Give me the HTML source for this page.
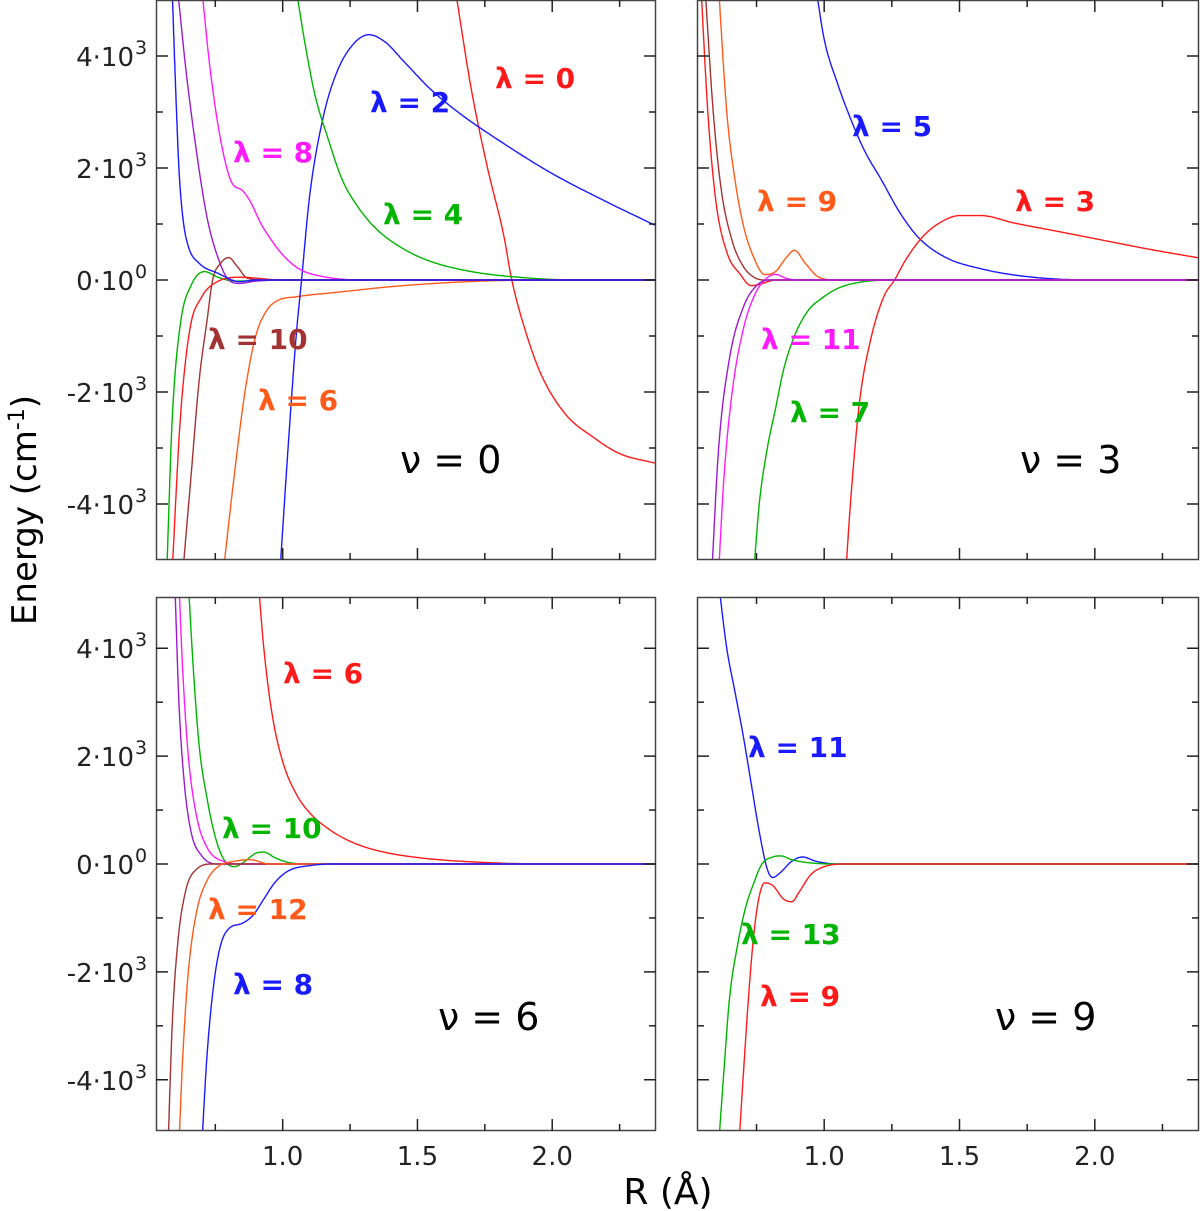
<!DOCTYPE html>
<html><head><meta charset="utf-8"><style>
html,body{margin:0;padding:0;background:#fff}
svg{display:block}
text{font-family:"DejaVu Sans","Liberation Sans",sans-serif}
.lab{font-size:28px;font-weight:bold}
.nu{font-size:38px;fill:#000}
.tk{font-size:26px;fill:#222}
</style></head><body>
<svg id="chart" width="1200" height="1211" viewBox="0 0 1200 1211" xmlns="http://www.w3.org/2000/svg"></svg>
<script>
// ---- data (R in Å, E in cm^-1) ----
const xTicksMajor = [1.0, 1.5, 2.0];
const xTicksMinor = [0.75, 1.25, 1.75, 2.25];
const xTickLabels = ["1.0", "1.5", "2.0"];
const yTicks = [-4000, -3000, -2000, -1000, 0, 1000, 2000, 3000, 4000];
const yTickLabelVals = [4000, 2000, 0, -2000, -4000];
const yTickLabels = ["4·10", "2·10", "0·10", "-2·10", "-4·10"];
const yTickExps = ["3", "3", "0", "3", "3"];

// panel v=0
const v0_l0_r = [1.64,1.70,1.76,1.82,1.85,1.90,1.96,2.05,2.15,2.25,2.38];
const v0_l0_e = [5200,3400,2000,800,0,-900,-1700,-2400,-2800,-3100,-3270];
const v0_l2_r = [0.99,1.02,1.05,1.07,1.10,1.15,1.20,1.26,1.32,1.38,1.45,1.55,1.65,1.80,2.0,2.2,2.38];
const v0_l2_e = [-5200,-3000,-1000,0,1500,2900,3700,4200,4380,4250,3900,3400,3000,2500,1900,1400,980];
const v0_l4_r = [1.05,1.08,1.12,1.17,1.22,1.28,1.35,1.45,1.55,1.7,1.9,2.1,2.38];
const v0_l4_e = [5200,4300,3300,2500,1800,1300,900,550,330,150,40,0,0];
const v0_g_r = [0.57,0.59,0.62,0.66,0.71,0.76,0.82,1.0,2.38];
const v0_g_e = [-5200,-2500,-800,-100,150,50,-20,0,0];
const v0_l8_r = [0.70,0.73,0.77,0.81,0.85,0.88,0.92,0.96,1.0,1.06,1.15,1.3,2.38];
const v0_l8_e = [5200,3800,2500,1750,1600,1400,1000,700,450,200,60,0,0];
const v0_p_r = [0.61,0.64,0.68,0.72,0.76,0.80,0.84,0.9,1.0,2.38];
const v0_p_e = [5200,3800,2300,1100,400,0,-60,-20,0,0];
const v0_b_r = [0.59,0.60,0.615,0.63,0.65,0.69,0.76,0.84,0.9,2.38];
const v0_b_e = [5200,3800,2000,1100,600,300,120,-30,0,0];
const v0_l10_r = [0.63,0.66,0.69,0.72,0.74,0.77,0.80,0.83,0.87,0.95,2.38];
const v0_l10_e = [-5200,-3500,-1800,-700,0,300,400,250,30,0,0];
const v0_r_r = [0.59,0.62,0.655,0.70,0.75,0.84,1.0,2.38];
const v0_r_e = [-5200,-2500,-900,-300,-50,50,0,0];
const v0_l6_r = [0.78,0.82,0.86,0.90,0.94,0.98,1.05,1.2,1.4,1.6,1.8,2.0,2.38];
const v0_l6_e = [-5200,-3500,-2000,-1000,-550,-370,-300,-220,-120,-50,-10,0,0];

// panel v=3
const v3_l5_r = [0.97,1.0,1.05,1.10,1.15,1.21,1.28,1.35,1.45,1.58,1.75,2.0,2.39];
const v3_l5_e = [5200,4300,3500,2850,2300,1800,1200,750,400,200,60,0,0];
const v3_l3_r = [1.08,1.10,1.13,1.17,1.22,1.26,1.30,1.36,1.42,1.50,1.58,1.70,1.85,2.02,2.2,2.39];
const v3_l3_e = [-5200,-3800,-2200,-1100,-300,0,350,750,1000,1150,1150,1020,880,720,550,390];
const v3_l7_r = [0.74,0.76,0.79,0.82,0.85,0.89,0.94,0.99,1.05,1.12,1.25,2.39];
const v3_l7_e = [-5200,-4000,-3000,-2300,-1600,-1000,-550,-330,-150,-50,0,0];
const v3_l9_r = [0.61,0.64,0.67,0.70,0.74,0.78,0.82,0.86,0.89,0.93,0.98,1.05,2.39];
const v3_l9_e = [5200,3000,1800,1000,400,100,150,400,530,300,50,0,0];
const v3_b_r = [0.56,0.59,0.62,0.66,0.70,0.74,0.78,2.39];
const v3_b_e = [5200,3000,1600,700,250,50,0,0];
const v3_r_r = [0.545,0.57,0.60,0.64,0.69,0.73,0.76,0.82,2.39];
const v3_r_e = [5200,3000,1400,500,100,-100,-80,0,0];
const v3_l11_r = [0.61,0.63,0.66,0.70,0.74,0.78,0.82,0.86,0.9,2.39];
const v3_l11_e = [-5200,-3500,-2000,-900,-300,0,100,30,0,0];
const v3_p_r = [0.585,0.61,0.65,0.70,0.75,0.80,2.39];
const v3_p_e = [-5200,-3000,-1400,-500,-100,0,0];

// panel v=6
const v6_l6_r = [0.91,0.93,0.96,1.0,1.05,1.1,1.17,1.25,1.35,1.5,1.7,2.0,2.38];
const v6_l6_e = [5200,4000,2800,1900,1300,950,650,420,250,120,40,0,0];
const v6_l10_r = [0.65,0.67,0.69,0.72,0.75,0.78,0.82,0.86,0.90,0.93,0.97,1.02,1.1,2.38];
const v6_l10_e = [5200,3500,2200,1200,500,100,-50,50,200,220,120,30,0,0];
const v6_m_r = [0.615,0.63,0.65,0.68,0.72,0.78,0.85,2.38];
const v6_m_e = [5200,3500,2000,900,300,50,0,0];
const v6_p_r = [0.60,0.615,0.635,0.66,0.70,0.76,2.38];
const v6_p_e = [5200,3000,1500,600,150,0,0];
const v6_b_r = [0.575,0.59,0.61,0.64,0.68,0.74,2.38];
const v6_b_e = [-5200,-3000,-1500,-500,-100,0,0];
const v6_l12_r = [0.615,0.63,0.65,0.68,0.72,0.76,0.82,0.88,0.95,2.38];
const v6_l12_e = [-5200,-3500,-2000,-900,-300,-50,50,80,0,0];
const v6_l8_r = [0.70,0.72,0.745,0.77,0.80,0.85,0.89,0.93,0.97,1.02,1.1,1.2,2.38];
const v6_l8_e = [-5200,-3500,-2200,-1500,-1200,-1100,-950,-650,-350,-130,-30,0,0];

// panel v=9
const v9_l11_r = [0.61,0.64,0.67,0.70,0.73,0.76,0.79,0.81,0.84,0.88,0.92,0.97,1.05,2.39];
const v9_l11_e = [5200,4000,3200,2400,1500,600,-100,-250,-150,50,130,50,0,0];
const v9_l13_r = [0.61,0.63,0.65,0.68,0.71,0.74,0.77,0.81,0.84,0.88,0.95,1.05,2.39];
const v9_l13_e = [-5200,-3800,-2500,-1500,-800,-350,0,130,150,80,20,0,0];
const v9_l9_r = [0.685,0.70,0.72,0.74,0.76,0.78,0.81,0.85,0.88,0.91,0.95,1.0,1.08,2.39];
const v9_l9_e = [-5200,-4000,-2500,-1300,-600,-350,-400,-650,-700,-500,-200,-50,0,0];

const RED="#ff1a1a", BLUE="#1a1aff", GREEN="#00b400", MAG="#ff1aff", BROWN="#a33333", ORANGE="#ff5a1a", PURPLE="#9b1ad0";

const panels = [
 {name:"panel-v0", x0:156,x1:656,y0:0,y1:560, emax:5000, nu:"ν = 0", nux:400, nuy:473, left:true, bottom:false,
  curves:[["lambda-0",v0_l0_r,v0_l0_e,RED],["lambda-6",v0_l6_r,v0_l6_e,ORANGE],["lambda-2",v0_l2_r,v0_l2_e,BLUE],["lambda-4",v0_l4_r,v0_l4_e,GREEN],
   ["lambda-green-low",v0_g_r,v0_g_e,GREEN],["lambda-8",v0_l8_r,v0_l8_e,MAG],["lambda-purple",v0_p_r,v0_p_e,PURPLE],
   ["lambda-10",v0_l10_r,v0_l10_e,BROWN],["lambda-red-low",v0_r_r,v0_r_e,RED],["lambda-blue-high",v0_b_r,v0_b_e,BLUE]],
  labels:[["λ = 0",495,88,RED],["λ = 2",370,112,BLUE],["λ = 8",233,162,MAG],["λ = 4",383,224,GREEN],["λ = 10",208,349,BROWN],["λ = 6",258,410,ORANGE]]},
 {name:"panel-v3", x0:697,x1:1199,y0:0,y1:560, emax:5000, nu:"ν = 3", nux:1020, nuy:473, left:false, bottom:false,
  curves:[["lambda-5",v3_l5_r,v3_l5_e,BLUE],["lambda-3",v3_l3_r,v3_l3_e,RED],["lambda-7",v3_l7_r,v3_l7_e,GREEN],["lambda-9",v3_l9_r,v3_l9_e,ORANGE],
   ["lambda-brown",v3_b_r,v3_b_e,BROWN],["lambda-red-high",v3_r_r,v3_r_e,RED],["lambda-11",v3_l11_r,v3_l11_e,MAG],["lambda-purple",v3_p_r,v3_p_e,PURPLE]],
  labels:[["λ = 5",852,136,BLUE],["λ = 9",757,211,ORANGE],["λ = 3",1015,211,RED],["λ = 11",761,349,MAG],["λ = 7",790,422,GREEN]]},
 {name:"panel-v6", x0:156,x1:656,y0:597,y1:1131, emax:4950, nu:"ν = 6", nux:438, nuy:1030, left:true, bottom:true,
  curves:[["lambda-6",v6_l6_r,v6_l6_e,RED],["lambda-10",v6_l10_r,v6_l10_e,GREEN],["lambda-magenta",v6_m_r,v6_m_e,MAG],["lambda-purple",v6_p_r,v6_p_e,PURPLE],
   ["lambda-brown",v6_b_r,v6_b_e,BROWN],["lambda-12",v6_l12_r,v6_l12_e,ORANGE],["lambda-8",v6_l8_r,v6_l8_e,BLUE]],
  labels:[["λ = 6",283,683,RED],["λ = 10",222,838,GREEN],["λ = 12",208,919,ORANGE],["λ = 8",233,994,BLUE]]},
 {name:"panel-v9", x0:697,x1:1199,y0:597,y1:1131, emax:4950, nu:"ν = 9", nux:995, nuy:1030, left:false, bottom:true,
  curves:[["lambda-11",v9_l11_r,v9_l11_e,BLUE],["lambda-13",v9_l13_r,v9_l13_e,GREEN],["lambda-9",v9_l9_r,v9_l9_e,RED]],
  labels:[["λ = 11",748,757,BLUE],["λ = 13",741,944,GREEN],["λ = 9",760,1006,RED]]}
];
const RMIN=0.53, RMAX=2.385;
const NS="http://www.w3.org/2000/svg";
const svg=document.getElementById("chart");
function mk(tag,attrs,parent){const e=document.createElementNS(NS,tag);for(const k in attrs)e.setAttribute(k,attrs[k]);(parent||svg).appendChild(e);return e;}
// monotone cubic (Fritsch-Carlson) in data space
function monoPath(xs,ys,sx,sy){
  const n=xs.length, d=[], m=new Array(n);
  for(let i=0;i<n-1;i++) d.push((ys[i+1]-ys[i])/(xs[i+1]-xs[i]));
  m[0]=d[0]; m[n-1]=d[n-2];
  for(let i=1;i<n-1;i++){ m[i]=(d[i-1]*d[i]<=0)?0:(d[i-1]+d[i])/2; }
  for(let i=0;i<n-1;i++){
    if(d[i]===0){m[i]=0;m[i+1]=0;continue;}
    const a=m[i]/d[i], b=m[i+1]/d[i], s=a*a+b*b;
    if(s>9){const t=3/Math.sqrt(s);m[i]=t*a*d[i];m[i+1]=t*b*d[i];}
  }
  let path="";
  for(let i=0;i<n-1;i++){
    const h=xs[i+1]-xs[i], steps=24;
    for(let k=(i===0?0:1);k<=steps;k++){
      const t=k/steps, t2=t*t, t3=t2*t;
      const y=(2*t3-3*t2+1)*ys[i]+(t3-2*t2+t)*h*m[i]+(-2*t3+3*t2)*ys[i+1]+(t3-t2)*h*m[i+1];
      const x=xs[i]+t*h;
      path+=(path?"L":"M")+sx(x).toFixed(1)+","+sy(y).toFixed(1);
    }
  }
  return path;
}
panels.forEach((p,pi)=>{
  const g=mk("g",{});
  
  
  const sx=r=>p.x0+(r-RMIN)/(RMAX-RMIN)*(p.x1-p.x0);
  const yc=(p.y0+p.y1)/2, ys=(p.y1-p.y0)/2/p.emax;
  const sy=e=>yc-e*ys;
  const cid="clip"+pi;
  const cp=mk("clipPath",{id:cid},g);
  mk("rect",{x:p.x0,y:p.y0,width:p.x1-p.x0,height:p.y1-p.y0},cp);
  const cg=mk("g",{"clip-path":"url(#"+cid+")"},g);
  p.curves.forEach(c=>{
    const path=mk("path",{d:monoPath(c[1],c[2],sx,sy),fill:"none",stroke:c[3],"stroke-width":1.4,"stroke-linejoin":"round"},cg);
    
    
  });
  const frame=mk("rect",{x:p.x0+0.5,y:p.y0+0.5,width:p.x1-p.x0-1,height:p.y1-p.y0-1,fill:"none",stroke:"#444","stroke-width":1.5},g);
  
  
  xTicksMajor.forEach(t=>{const x=sx(t);mk("line",{x1:x,x2:x,y1:p.y1,y2:p.y1-12,stroke:"#222","stroke-width":1.5},g);mk("line",{x1:x,x2:x,y1:p.y0,y2:p.y0+12,stroke:"#222","stroke-width":1.5},g);});
  xTicksMinor.forEach(t=>{const x=sx(t);mk("line",{x1:x,x2:x,y1:p.y1,y2:p.y1-7,stroke:"#222","stroke-width":1.5},g);mk("line",{x1:x,x2:x,y1:p.y0,y2:p.y0+7,stroke:"#222","stroke-width":1.5},g);});
  yTicks.forEach(t=>{const y=sy(t);const L=(t%2000===0)?12:7;mk("line",{x1:p.x0,x2:p.x0+L,y1:y,y2:y,stroke:"#222","stroke-width":1.5},g);mk("line",{x1:p.x1,x2:p.x1-L,y1:y,y2:y,stroke:"#222","stroke-width":1.5},g);});
  if(p.bottom){
    xTicksMajor.forEach((t,i)=>{const tx=mk("text",{x:sx(t),y:p.y1+34,"text-anchor":"middle",class:"tk"},g);tx.textContent=xTickLabels[i];
      
      });
  }
  if(p.left){
    yTickLabelVals.forEach((v,i)=>{const tx=mk("text",{x:p.x0-22,y:sy(v)+10,"text-anchor":"end",class:"tk"},g);
      tx.textContent=yTickLabels[i];
      
      
      const sup=mk("text",{x:p.x0-21,y:sy(v)-2,class:"tk"},g);sup.style.fontSize="19px";sup.textContent=yTickExps[i];});
  }
  p.labels.forEach(l=>{const tx=mk("text",{x:l[1],y:l[2],class:"lab",fill:l[3]},g);tx.textContent=l[0];
    
    });
  const nu=mk("text",{x:p.nux,y:p.nuy,class:"nu"},g);nu.textContent=p.nu;
  
  
});
const yt=mk("text",{x:0,y:0,transform:"translate(36,510) rotate(-90)","text-anchor":"middle","font-size":"34"});
yt.innerHTML='Energy (cm<tspan dy="-12" font-size="22">-1</tspan><tspan dy="12">)</tspan>';


const xt=mk("text",{x:668,y:1204,"text-anchor":"middle","font-size":"36"});
xt.textContent="R (Å)";


</script>
</body></html>
